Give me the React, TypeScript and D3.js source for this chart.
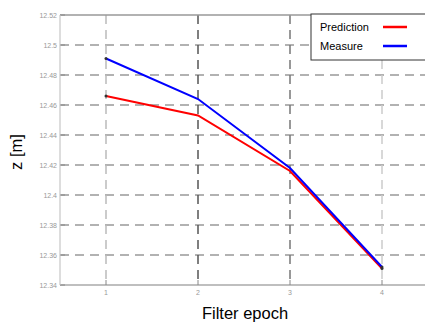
import React from "react";
import * as d3 from "d3";

const width = 425;
const height = 326;
const margin = { top: 15, right: -3, bottom: 41, left: 60 };

// Werte
const epochs = [1, 2, 3, 4];
const prediction = [12.466, 12.453, 12.416, 12.351];
const measure = [12.491, 12.464, 12.418, 12.352];
const yTicks = [12.34, 12.36, 12.38, 12.4, 12.42, 12.44, 12.46, 12.48, 12.5, 12.52];
const yTickLabels = ["12.34", "12.36", "12.38", "12.4", "12.42", "12.44", "12.46", "12.48", "12.5", "12.52"];
const legendItems = ["Prediction", "Measure"];
const colors = ["#ff0000", "#0000ff"];
// vertikale Gitterlinien sind im Bild unterschiedlich dunkel
const vGridColors = ["#bbbbbb", "#555555", "#777777", "#cccccc"];

export default function App() {
  const x = d3.scaleLinear().domain([0.5, 4.5]).range([margin.left, width - margin.right]);
  const y = d3.scaleLinear().domain([12.34, 12.52]).range([height - margin.bottom, margin.top]);

  const line = d3.line<number>()
    .x((d, i) => x(epochs[i]))
    .y((d) => y(d));

  const series = [prediction, measure];
  const x0 = x(0.5);
  const x1 = width;
  const yBottom = y(12.34);
  const yTop = y(12.52);

  return (
    <svg width={width} height={height} style={{ position: "absolute", left: 0, top: 0 }}
      fontFamily="Liberation Sans, Arial, sans-serif">
      <rect width={width} height={height} fill="#fff" />

      {/* horizontales Gitter */}
      {yTicks.slice(1, -1).map((t, i) => (
        <line key={"h" + i} x1={x0} x2={x1} y1={y(t)} y2={y(t)} stroke="#999" strokeWidth={1.5} strokeDasharray="9,6" />
      ))}
      {/* vertikales Gitter */}
      {epochs.map((e, i) => (
        <line key={"v" + i} x1={x(e)} x2={x(e)} y1={yTop} y2={yBottom} stroke={vGridColors[i]} strokeWidth={1.5} strokeDasharray="9,6" />
      ))}

      {/* Achsen */}
      <line x1={x0} x2={x1} y1={yTop} y2={yTop} stroke="#999" strokeWidth={1.5} />
      <line x1={x0} x2={x1} y1={yBottom} y2={yBottom} stroke="#aaa" strokeWidth={1.5} />
      <line x1={x0} x2={x0} y1={yTop} y2={yBottom} stroke="#ddd" strokeWidth={2} />

      {yTicks.map((t, i) => (
        <g key={"yt" + i}>
          <line x1={x0} x2={x0 + 5} y1={y(t)} y2={y(t)} stroke="#888" />
          <text x={x0 - 3} y={y(t) + 2.5} fontSize={7} fill="#999" textAnchor="end">{yTickLabels[i]}</text>
        </g>
      ))}
      {epochs.map((e, i) => (
        <g key={"xt" + i}>
          <line x1={x(e)} x2={x(e)} y1={yBottom} y2={yBottom - 5} stroke="#888" />
          <text x={x(e)} y={yBottom + 10} fontSize={7} fill="#999" textAnchor="middle">{e}</text>
        </g>
      ))}

      {/* Linien */}
      {series.map((s, i) => (
        <path key={"s" + i} d={line(s) || ""} fill="none" stroke={colors[i]} strokeWidth={2} />
      ))}
      {series.map((s, i) => (
        <g key={"m" + i}>
          <circle cx={x(epochs[0])} cy={y(s[0])} r={1.5} fill="#333" />
          <circle cx={x(epochs[3])} cy={y(s[3])} r={1.5} fill="#333" />
        </g>
      ))}

      {/* Legende, rechts abgeschnitten */}
      <rect x={311} y={14} width={140} height={46} fill="#fff" stroke="#333" strokeWidth={1} />
      {legendItems.map((name, i) => (
        <g key={"l" + i}>
          <text x={320} y={31 + i * 19} fontSize={11} fill="#000">{name}</text>
          <line x1={383} x2={407} y1={27 + i * 19} y2={27 + i * 19} stroke={colors[i]} strokeWidth={2.5} />
        </g>
      ))}

      {/* Achsenbeschriftung */}
      <text x={245} y={319} fontSize={16.5} textAnchor="middle" fill="#000">Filter epoch</text>
      <text transform={`translate(22, ${(yTop + yBottom) / 2 + 2}) rotate(-90)`} fontSize={16.5} textAnchor="middle" fill="#000">z [m]</text>
    </svg>
  );
}
